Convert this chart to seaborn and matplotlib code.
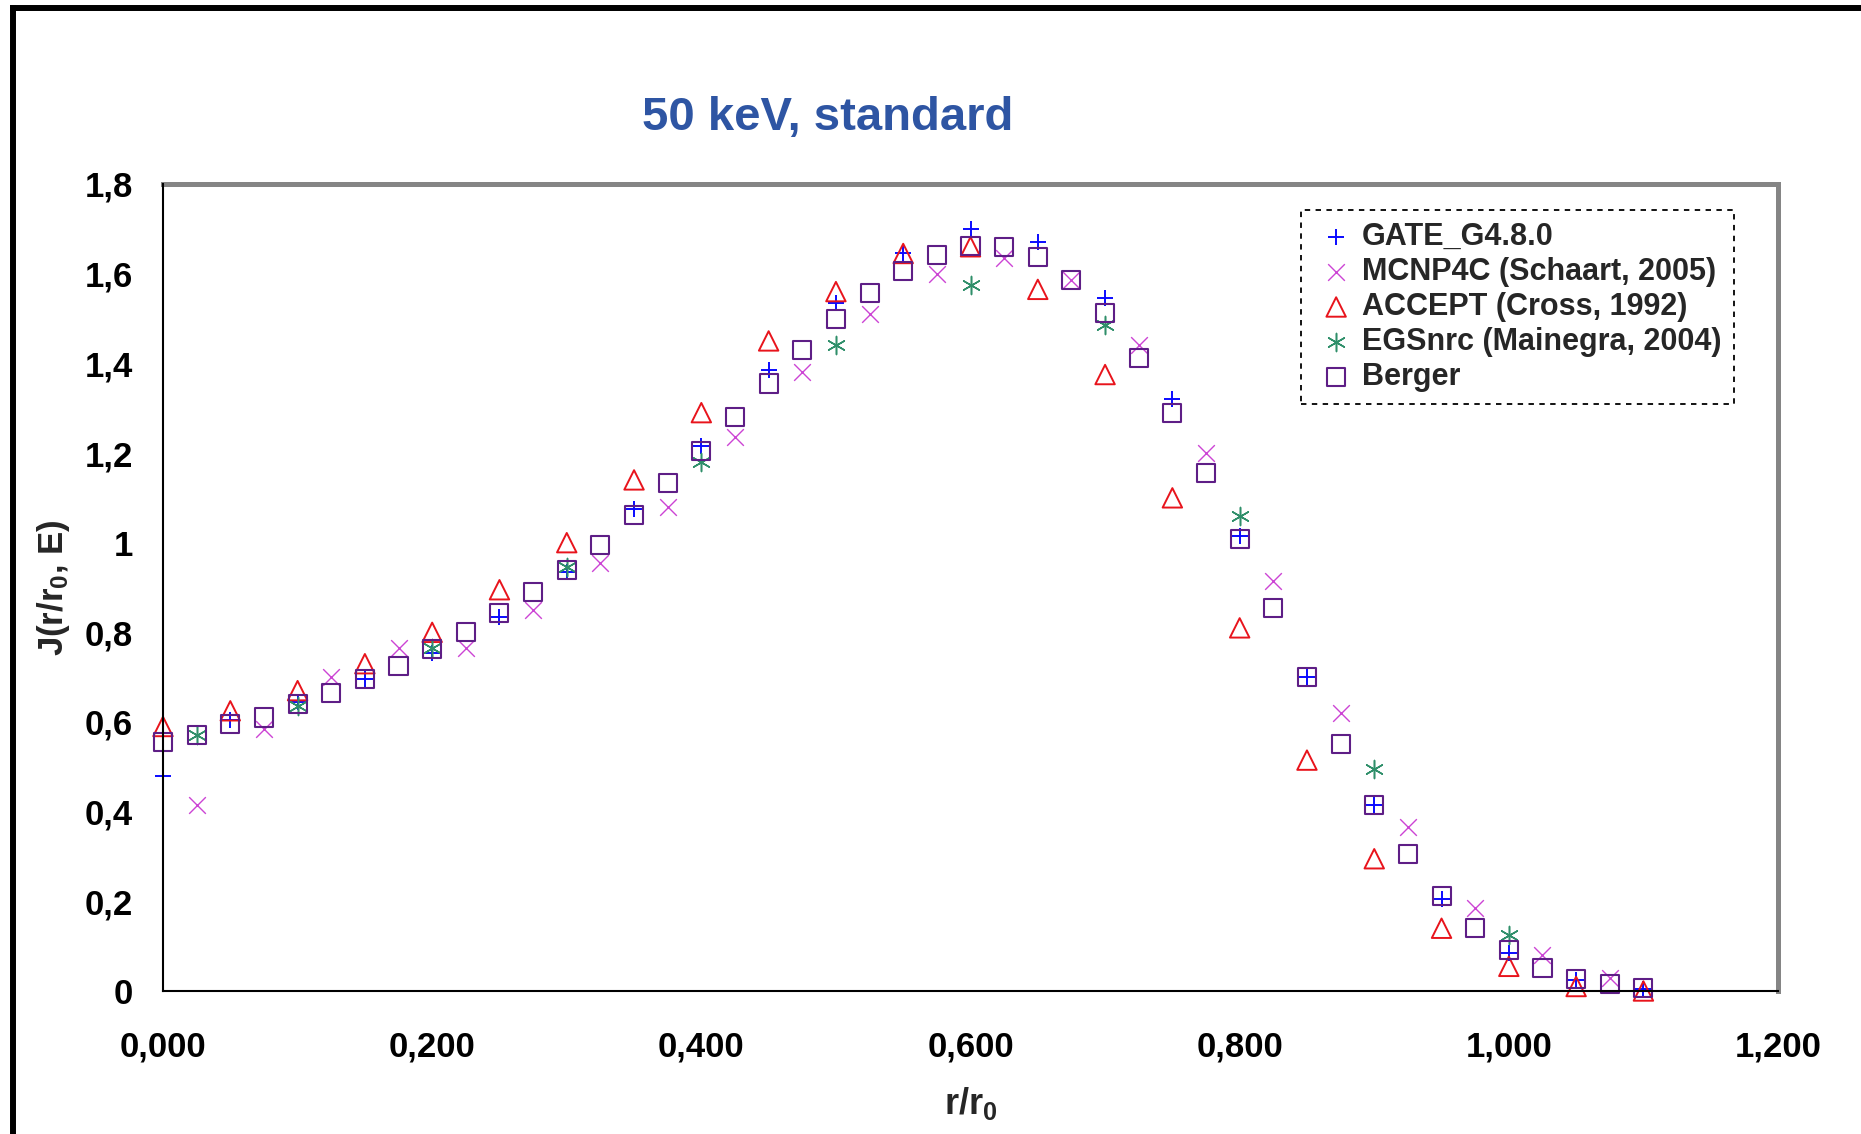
import numpy as np
import pandas as pd
import matplotlib
matplotlib.use("Agg")
import matplotlib.pyplot as plt
from matplotlib.lines import Line2D
import seaborn as sns

# ---- data -------------------------------------------------------------
gate_x = [0.00, 0.05, 0.10, 0.15, 0.20, 0.25, 0.30, 0.35, 0.40, 0.45, 0.50,
          0.55, 0.60, 0.65, 0.70, 0.75, 0.80, 0.85, 0.90, 0.95, 1.00, 1.05, 1.10]
gate_y = [0.48, 0.605, 0.645, 0.695, 0.755, 0.835, 0.935, 1.075, 1.215, 1.385, 1.535,
          1.645, 1.70, 1.67, 1.545, 1.32, 1.015, 0.70, 0.415, 0.205, 0.085, 0.025, 0.005]

mcnp_x = [0.025, 0.075, 0.125, 0.175, 0.225, 0.275, 0.325, 0.375, 0.425, 0.475, 0.525,
          0.575, 0.625, 0.675, 0.725, 0.775, 0.825, 0.875, 0.925, 0.975, 1.025, 1.075]
mcnp_y = [0.415, 0.585, 0.70, 0.765, 0.765, 0.85, 0.955, 1.08, 1.235, 1.38, 1.51,
          1.60, 1.635, 1.585, 1.44, 1.20, 0.915, 0.62, 0.365, 0.185, 0.08, 0.03]

accept_x = [0.00, 0.05, 0.10, 0.15, 0.20, 0.25, 0.30, 0.35, 0.40, 0.45, 0.50,
            0.55, 0.60, 0.65, 0.70, 0.75, 0.80, 0.85, 0.90, 0.95, 1.00, 1.05, 1.10]
accept_y = [0.59, 0.625, 0.67, 0.73, 0.80, 0.895, 1.00, 1.14, 1.29, 1.45, 1.56,
            1.645, 1.66, 1.565, 1.375, 1.10, 0.81, 0.515, 0.295, 0.14, 0.055, 0.01, 0.0]

egs_x = [0.025, 0.10, 0.20, 0.30, 0.40, 0.50, 0.60, 0.70, 0.80, 0.90, 1.00]
egs_y = [0.57, 0.635, 0.765, 0.945, 1.18, 1.44, 1.575, 1.485, 1.06, 0.495, 0.125]

berger_x = [0.000, 0.025, 0.050, 0.075, 0.100, 0.125, 0.150, 0.175, 0.200, 0.225,
            0.250, 0.275, 0.300, 0.325, 0.350, 0.375, 0.400, 0.425, 0.450, 0.475,
            0.500, 0.525, 0.550, 0.575, 0.600, 0.625, 0.650, 0.675, 0.700, 0.725,
            0.750, 0.775, 0.800, 0.825, 0.850, 0.875, 0.900, 0.925, 0.950, 0.975,
            1.000, 1.025, 1.050, 1.075, 1.100]
berger_y = [0.555, 0.57, 0.595, 0.61, 0.64, 0.665, 0.695, 0.725, 0.763, 0.80,
            0.843, 0.89, 0.94, 0.995, 1.062, 1.134, 1.205, 1.281, 1.355, 1.43,
            1.498, 1.556, 1.607, 1.642, 1.662, 1.66, 1.637, 1.585, 1.512, 1.411,
            1.289, 1.156, 1.008, 0.855, 0.70, 0.551, 0.415, 0.306, 0.212, 0.141,
            0.091, 0.052, 0.027, 0.016, 0.006]

series_names = ["GATE_G4.8.0", "MCNP4C (Schaart, 2005)", "ACCEPT (Cross, 1992)",
                "EGSnrc (Mainegra, 2004)", "Berger"]

x_ticks = [0.0, 0.2, 0.4, 0.6, 0.8, 1.0, 1.2]
x_tick_labels = ["0,000", "0,200", "0,400", "0,600", "0,800", "1,000", "1,200"]
y_ticks = [0.0, 0.2, 0.4, 0.6, 0.8, 1.0, 1.2, 1.4, 1.6, 1.8]
y_tick_labels = ["0", "0,2", "0,4", "0,6", "0,8", "1", "1,2", "1,4", "1,6", "1,8"]

title_text = "50 keV, standard"

# ---- styling ----------------------------------------------------------
sns.set_style("white")
plt.rcParams["font.family"] = ["Liberation Sans", "DejaVu Sans"]
plt.rcParams["font.weight"] = "bold"
plt.rcParams["axes.labelweight"] = "bold"
plt.rcParams["mathtext.fontset"] = "custom"
plt.rcParams["mathtext.rm"] = "Liberation Sans:bold"
plt.rcParams["mathtext.bf"] = "Liberation Sans:bold"
plt.rcParams["mathtext.it"] = "Liberation Sans:bold"

W, H = 1861, 1134
fig = plt.figure(figsize=(W / 100, H / 100), dpi=100)
fig.patch.set_facecolor("white")

ax_l, ax_r, ax_t, ax_b = 163, 1778, 184, 991
ax = fig.add_axes([ax_l / W, 1 - ax_b / H, (ax_r - ax_l) / W, (ax_b - ax_t) / H])
ax.set_facecolor("white")

frames = {
    series_names[0]: pd.DataFrame({"r": gate_x, "J": gate_y}),
    series_names[1]: pd.DataFrame({"r": mcnp_x, "J": mcnp_y}),
    series_names[2]: pd.DataFrame({"r": accept_x, "J": accept_y}),
    series_names[3]: pd.DataFrame({"r": egs_x, "J": egs_y}),
    series_names[4]: pd.DataFrame({"r": berger_x, "J": berger_y}),
}

styles = {
    series_names[0]: dict(marker="+", color="#0a0aff", s=11.5 ** 2, linewidths=1.4),
    series_names[1]: dict(marker="x", color="#cc44d4", s=12 ** 2, linewidths=1.0),
    series_names[2]: dict(marker="^", facecolor="none", edgecolor="#e8141c",
                          s=14 ** 2, linewidths=1.4),
    series_names[3]: dict(marker=(6, 2, 0), color="#2f8f6a", s=13 ** 2, linewidths=1.1),
    series_names[4]: dict(marker="s", facecolor="none", edgecolor="#5e1e86",
                          s=13 ** 2, linewidths=1.5),
}

for name in series_names:
    sns.scatterplot(data=frames[name], x="r", y="J", ax=ax, label=name,
                    clip_on=False, **styles[name])

# axes limits, ticks and labels
ax.set_xlim(0, 1.2)
ax.set_ylim(0, 1.8)
ax.set_xticks(x_ticks)
ax.set_xticklabels(x_tick_labels)
ax.set_yticks(y_ticks)
ax.set_yticklabels(y_tick_labels)
ax.tick_params(axis="both", which="major", direction="out", length=8.6, width=1.1,
               colors="black", labelsize=25)
ax.tick_params(axis="x", pad=20)
ax.tick_params(axis="y", pad=13)
for lbl in ax.get_xticklabels() + ax.get_yticklabels():
    lbl.set_fontweight("bold")

ax.set_xlabel(r"r/r$_{0}$", fontsize=26, fontweight="bold")
ax.set_ylabel(r"J(r/r$_{0}$, E)", fontsize=25, fontweight="bold")
ax.xaxis.set_label_coords(0.5, (ax_b - 1104) / (ax_b - ax_t))
ax.xaxis.label.set_verticalalignment("center")
ax.yaxis.set_label_coords((53 - ax_l) / (ax_r - ax_l), 0.5)
ax.yaxis.label.set_verticalalignment("center")

# plot-area border: grey top/right, black axis lines
for side in ["top", "right"]:
    ax.spines[side].set_color("#858585")
    ax.spines[side].set_linewidth(3.6)
for side in ["left", "bottom"]:
    ax.spines[side].set_color("black")
    ax.spines[side].set_linewidth(1.5)
    ax.spines[side].set_zorder(3)
ax.grid(False)

# legend
leg = ax.legend(loc="upper left", bbox_to_anchor=(1301 / W, 1 - 210 / H),
                bbox_transform=fig.transFigure, frameon=True, fancybox=False,
                edgecolor="black", facecolor="white", framealpha=1,
                prop={"size": 22, "weight": "bold"}, borderpad=0.4,
                handlelength=1.5, handletextpad=0.1, labelspacing=0.16,
                markerscale=1.0, borderaxespad=0)
leg.get_frame().set_linestyle((0, (3, 3)))
leg.get_frame().set_linewidth(1.3)

# title
fig.text(828 / W, 1 - 118 / H, title_text, ha="center", va="center",
         fontsize=34, fontweight="bold", color="#2e55a3")

# outer border lines (top and left)
fig.add_artist(Line2D([12.5 / W, 12.5 / W], [0, 1 - 8 / H], transform=fig.transFigure,
                      color="black", linewidth=4.3, solid_capstyle="projecting"))
fig.add_artist(Line2D([12.5 / W, 1], [1 - 8 / H, 1 - 8 / H], transform=fig.transFigure,
                      color="black", linewidth=4.3, solid_capstyle="projecting"))

fig.savefig("out.png", dpi=100, facecolor="white")
